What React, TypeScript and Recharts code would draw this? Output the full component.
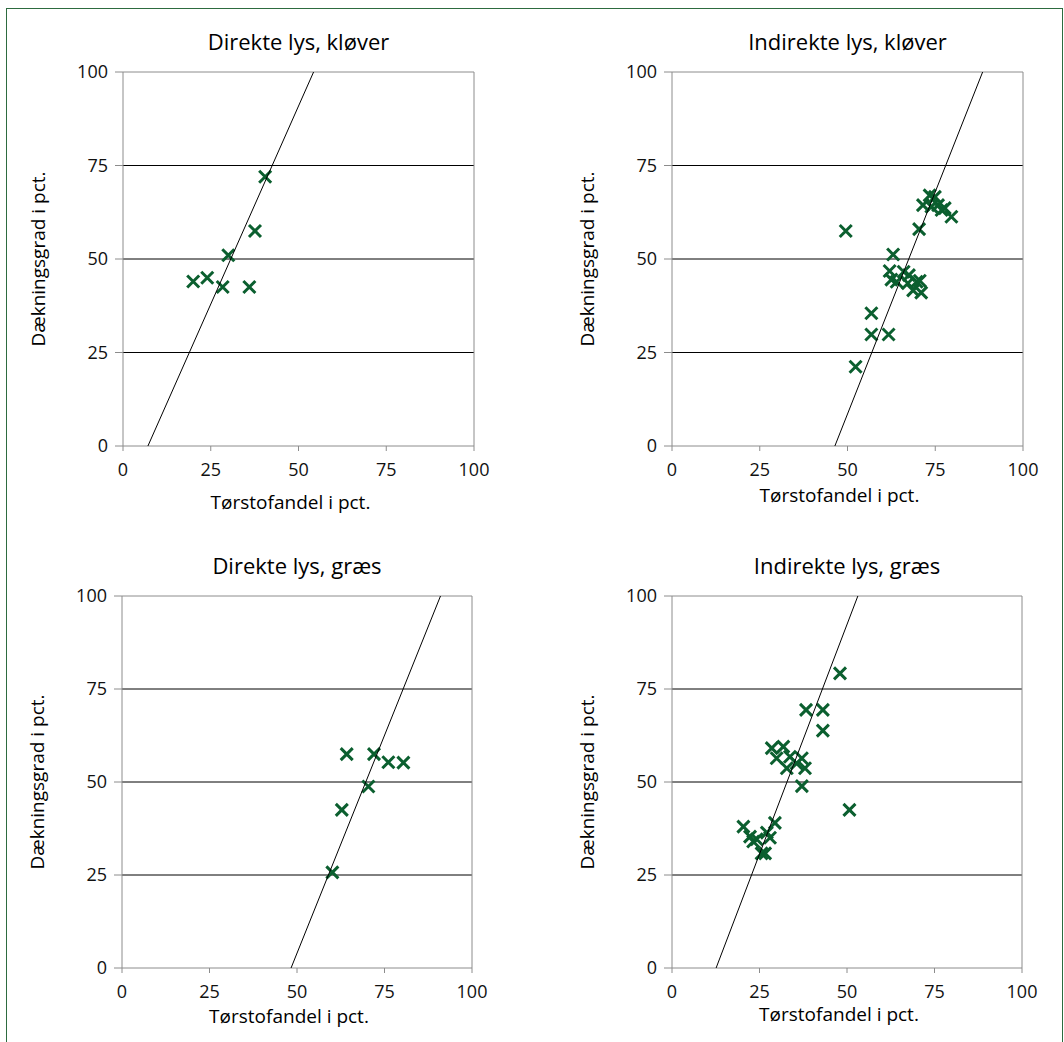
import React from 'react';
import { ScatterChart, Scatter, XAxis, YAxis, ReferenceLine } from 'recharts';

// axis ticks shared by all four panels
const axisTicks = [0, 25, 50, 75, 100];
const gridValues = [25, 50, 75];

// Direkte lys, kløver
const dkX = [40.5, 37.6, 30, 20, 24, 28.4, 36];
const dkY = [72, 57.5, 51, 44, 45, 42.5, 42.5];
const dkTrend = [{ x: 7.1, y: 0 }, { x: 54.3, y: 100 }];

// Indirekte lys, kløver
const ikX = [49.5, 52.3, 56.8, 56.8, 61.7, 63, 62, 62.5, 64, 66, 67.5, 67.2, 69.7, 68.7, 71, 70.6, 70.4, 71.5, 73.4, 74.9, 73.9, 75.8, 76.8, 77.7, 79.6];
const ikY = [57.5, 21.2, 35.5, 29.8, 29.8, 51.2, 46.8, 44.5, 43.9, 46.6, 45.7, 43.5, 43.9, 41.6, 41, 44.2, 58, 64.4, 67, 66.6, 64, 64.4, 63.1, 63.6, 61.3];
const ikTrend = [{ x: 46.4, y: 0 }, { x: 88.5, y: 100 }];

// Direkte lys, græs
const dgX = [64.2, 72, 76.1, 80.4, 70.4, 62.8, 60.1];
const dgY = [57.5, 57.5, 55.3, 55.2, 48.8, 42.5, 25.7];
const dgTrend = [{ x: 48.3, y: 0 }, { x: 91, y: 100 }];

// Indirekte lys, græs
const igX = [48, 38.3, 43.1, 43.1, 37.1, 50.7, 28.5, 31.8, 29.9, 33.7, 37.1, 35.6, 32.8, 38, 20.4, 29.4, 22.3, 24.2, 27.1, 28, 23.2, 25.6, 26.6];
const igY = [79.2, 69.4, 69.4, 63.8, 48.9, 42.5, 59.1, 59.5, 56.4, 56.8, 56.4, 55, 53.7, 53.7, 38, 39, 35.3, 34.6, 36.4, 35, 34, 30.8, 30.8];
const igTrend = [{ x: 12.6, y: 0 }, { x: 53.1, y: 100 }];

const zip = (xs: number[], ys: number[]) => xs.map((x, i) => ({ x, y: ys[i] }));

const GREEN = '#0b5f2f';
const FRAME = '#8c8c8c';
const FONT = '"Open Sans", "Liberation Sans", sans-serif';

const Cross = (props: any) => {
  const { cx, cy } = props;
  if (cx == null || cy == null) return <g />;
  const r = 6;
  return (
    <path
      d={`M${cx - r},${cy - r}L${cx + r},${cy + r}M${cx - r},${cy + r}L${cx + r},${cy - r}`}
      stroke={GREEN}
      strokeWidth={3}
      fill="none"
    />
  );
};

const Nothing = () => <g />;

type PanelProps = {
  title: string;
  points: { x: number; y: number }[];
  trend: { x: number; y: number }[];
  left: number;
  top: number;
  w: number;
  h: number;
  titleY: number;
  xLabelY: number;
};

const Panel = ({ title, points, trend, left, top, w, h, titleY, xLabelY }: PanelProps) => {
  const tickStyle = { fontSize: 18, fill: '#111', fontFamily: FONT };
  const cxMid = left + w / 2;
  const textBase = { position: 'absolute' as const, fontFamily: FONT, whiteSpace: 'nowrap' as const, color: '#000', lineHeight: 1 };
  return (
    <>
      <div style={{ ...textBase, left: cxMid, top: titleY, transform: 'translate(-50%, -50%)', fontSize: 22 }}>
        {title}
      </div>
      <div style={{ ...textBase, left: cxMid - 8, top: xLabelY, transform: 'translate(-50%, -50%)', fontSize: 19 }}>
        Tørstofandel i pct.
      </div>
      <div
        style={{
          ...textBase, left: left - 85, top: top + h / 2,
          transform: 'translate(-50%, -50%) rotate(-90deg)', fontSize: 19,
        }}
      >
        Dækningsgrad i pct.
      </div>
      <div style={{ position: 'absolute', left: left - 70, top: top - 20 }}>
        <ScatterChart width={w + 90} height={h + 60} margin={{ top: 20, right: 20, left: 0, bottom: 0 }}>
          <XAxis
            type="number"
            dataKey="x"
            domain={[0, 100]}
            ticks={axisTicks}
            allowDataOverflow
            height={40}
            tickSize={5}
            tickMargin={12}
            stroke={FRAME}
            tick={tickStyle}
          />
          <YAxis
            type="number"
            dataKey="y"
            domain={[0, 100]}
            ticks={axisTicks}
            allowDataOverflow
            width={70}
            tickSize={8}
            tickMargin={7}
            stroke={FRAME}
            tick={tickStyle}
          />
          {gridValues.map((v) => (
            <ReferenceLine key={v} y={v} stroke="#000" strokeWidth={1} />
          ))}
          <ReferenceLine y={100} stroke={FRAME} strokeWidth={1} />
          <ReferenceLine x={100} stroke={FRAME} strokeWidth={1} />
          <Scatter data={points} shape={<Cross />} isAnimationActive={false} />
          <Scatter
            data={trend}
            line={{ stroke: '#000', strokeWidth: 1 }}
            shape={<Nothing />}
            isAnimationActive={false}
          />
        </ScatterChart>
      </div>
    </>
  );
};

const App = () => {
  return (
    <div style={{ position: 'absolute', left: 0, top: 0, width: 1064, height: 1042, background: '#fff', overflow: 'hidden' }}>
      <div
        style={{
          position: 'absolute', left: 6, top: 8, width: 1055, height: 1040,
          borderLeft: '1.5px solid #2d6b3f', borderTop: '1.5px solid #2d6b3f', borderRight: '1.5px solid #2d6b3f',
        }}
      />
      <Panel title="Direkte lys, kløver" points={zip(dkX, dkY)} trend={dkTrend}
        left={123} top={72} w={351} h={374} titleY={41} xLabelY={502} />
      <Panel title="Indirekte lys, kløver" points={zip(ikX, ikY)} trend={ikTrend}
        left={672} top={72} w={351} h={374} titleY={41} xLabelY={495} />
      <Panel title="Direkte lys, græs" points={zip(dgX, dgY)} trend={dgTrend}
        left={122} top={596} w={350} h={372} titleY={565} xLabelY={1016} />
      <Panel title="Indirekte lys, græs" points={zip(igX, igY)} trend={igTrend}
        left={672} top={596} w={350} h={372} titleY={565} xLabelY={1014} />
    </div>
  );
};

export default App;
